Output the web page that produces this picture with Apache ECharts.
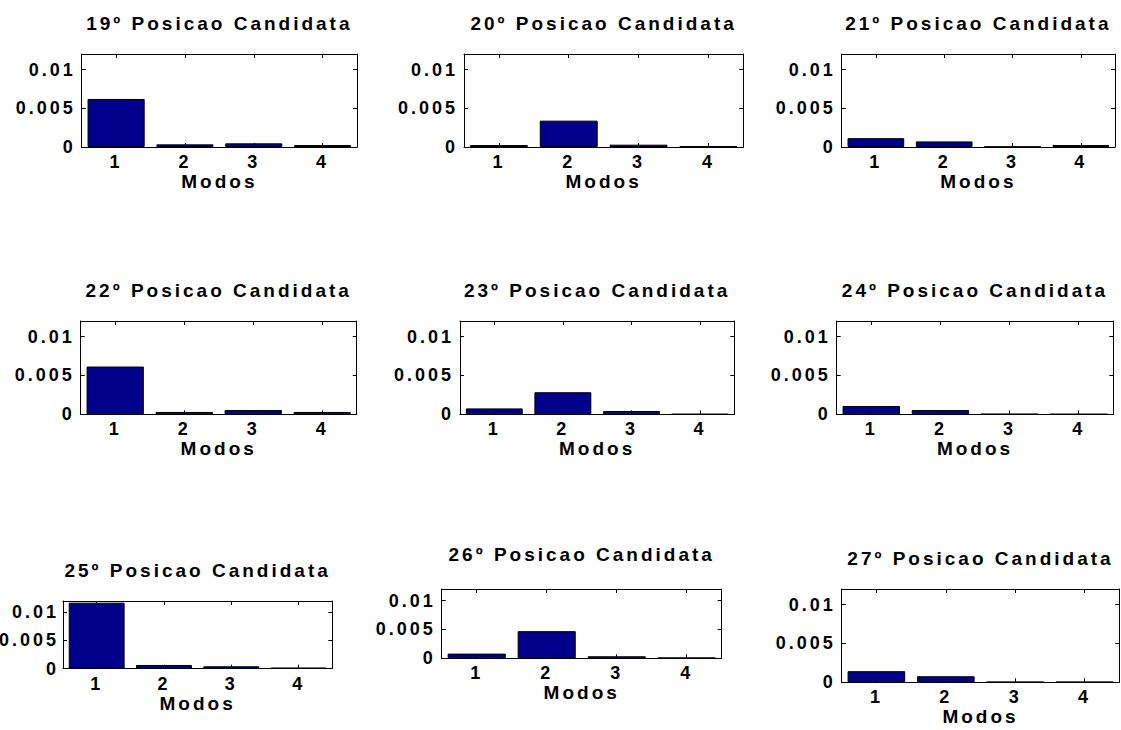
<!DOCTYPE html>
<html><head><meta charset="utf-8">
<script src="https://cdn.jsdelivr.net/npm/echarts@6/dist/echarts.min.js"></script>
<style>
html,body{margin:0;padding:0;background:#fff;width:1121px;height:730px;overflow:hidden}
#chart{position:absolute;left:0;top:0;width:1121px;height:730px}
#chart svg text{letter-spacing:3px}
</style></head><body>
<div id="chart"></div>
<script>
// ---- data ----
const modes = ['1', '2', '3', '4'];
const xAxisName = 'Modos';
const titles = [
  '19º Posicao Candidata', '20º Posicao Candidata', '21º Posicao Candidata',
  '22º Posicao Candidata', '23º Posicao Candidata', '24º Posicao Candidata',
  '25º Posicao Candidata', '26º Posicao Candidata', '27º Posicao Candidata'
];
const pos19 = [0.0062, 0.00034, 0.00047, 0.00025];
const pos20 = [0.00025, 0.0034, 0.0003, 0.0001];
const pos21 = [0.00114, 0.00072, 0.00005, 0.00025];
const pos22 = [0.00614, 0.0003, 0.00055, 0.0003];
const pos23 = [0.00076, 0.00284, 0.00042, 0.00002];
const pos24 = [0.00106, 0.00055, 0.00003, 0.00002];
const pos25 = [0.0117, 0.00066, 0.00043, 0.00018];
const pos26 = [0.00081, 0.0047, 0.00035, 0.0001];
const pos27 = [0.00143, 0.00078, 0.00005, 0.00005];
const seriesValues = [pos19, pos20, pos21, pos22, pos23, pos24, pos25, pos26, pos27];
const yMin = 0, yMax = 0.012, yInterval = 0.005;

// ---- layout (page pixels) ----
// box: [left, top, right, bottom] of each axes frame; titleY: title centre line; lm: y label margin
const layout = [
  {box: [81.7, 54, 357, 147],        titleY: 23,  lm: 6},
  {box: [464, 54, 743.3, 147],       titleY: 23,  lm: 6},
  {box: [841.7, 54, 1115, 147],      titleY: 23,  lm: 6},
  {box: [80.7, 321, 356.7, 414.3],   titleY: 290, lm: 6},
  {box: [460, 321, 734.3, 414.3],    titleY: 290, lm: 6},
  {box: [836.7, 321, 1113.3, 414.3], titleY: 290, lm: 6},
  {box: [63, 601, 332.3, 668.7],     titleY: 570, lm: 4},
  {box: [441.7, 589, 721.7, 658.3],  titleY: 554, lm: 6},
  {box: [841.7, 589, 1119.3, 682.3], titleY: 558, lm: 6}
];

const FONT = '"Liberation Sans", Arial, Helvetica, sans-serif';
const black = '#000';
const lineStyle = {color: black, width: 1};
const tick = {show: true, inside: true, length: 4, lineStyle: lineStyle};
const labelFont = {color: black, fontSize: 18, fontWeight: 'bold', fontFamily: FONT};
const nameFont = {color: black, fontSize: 19, fontWeight: 'bold', fontFamily: FONT};

const option = {
  animation: false,
  backgroundColor: '#fff',
  title: [], grid: [], xAxis: [], yAxis: [], series: []
};

layout.forEach(function (L, i) {
  const gw = L.box[2] - L.box[0], gh = L.box[3] - L.box[1];
  option.title.push({
    text: titles[i],
    left: L.box[0] + gw / 2,
    top: L.titleY,
    textAlign: 'center',
    textVerticalAlign: 'middle',
    padding: 0,
    textStyle: nameFont
  });
  option.grid.push({
    left: L.box[0], top: L.box[1], width: gw, height: gh,
    containLabel: false, outerBoundsMode: 'none', show: false
  });
  option.xAxis.push({
    gridIndex: i, type: 'category', data: modes, position: 'bottom', boundaryGap: true,
    axisLine: {show: true, onZero: false, lineStyle: lineStyle},
    axisTick: Object.assign({alignWithLabel: true}, tick),
    axisLabel: Object.assign({show: true, margin: 6}, labelFont),
    splitLine: {show: false},
    name: xAxisName, nameLocation: 'middle', nameGap: 19,
    nameTextStyle: nameFont
  });
  option.xAxis.push({
    gridIndex: i, type: 'category', data: modes, position: 'top', boundaryGap: true,
    axisLine: {show: true, onZero: false, lineStyle: lineStyle},
    axisTick: Object.assign({alignWithLabel: true}, tick),
    axisLabel: {show: false}, splitLine: {show: false}
  });
  option.yAxis.push({
    gridIndex: i, type: 'value', min: yMin, max: yMax, interval: yInterval, position: 'left',
    axisLine: {show: true, onZero: false, lineStyle: lineStyle},
    axisTick: tick,
    axisLabel: Object.assign({show: true, showMaxLabel: false, margin: L.lm}, labelFont),
    splitLine: {show: false}
  });
  option.yAxis.push({
    gridIndex: i, type: 'value', min: yMin, max: yMax, interval: yInterval, position: 'right',
    axisLine: {show: true, onZero: false, lineStyle: lineStyle},
    axisTick: tick,
    axisLabel: {show: false}, splitLine: {show: false}
  });
  option.series.push({
    type: 'bar', data: seriesValues[i], xAxisIndex: 2 * i, yAxisIndex: 2 * i,
    barWidth: '83%', silent: true,
    itemStyle: {color: '#00008B', borderColor: black, borderWidth: 1}
  });
});

const chart = echarts.init(document.getElementById('chart'), null, {renderer: 'svg'});
chart.setOption(option);
</script>
</body></html>
